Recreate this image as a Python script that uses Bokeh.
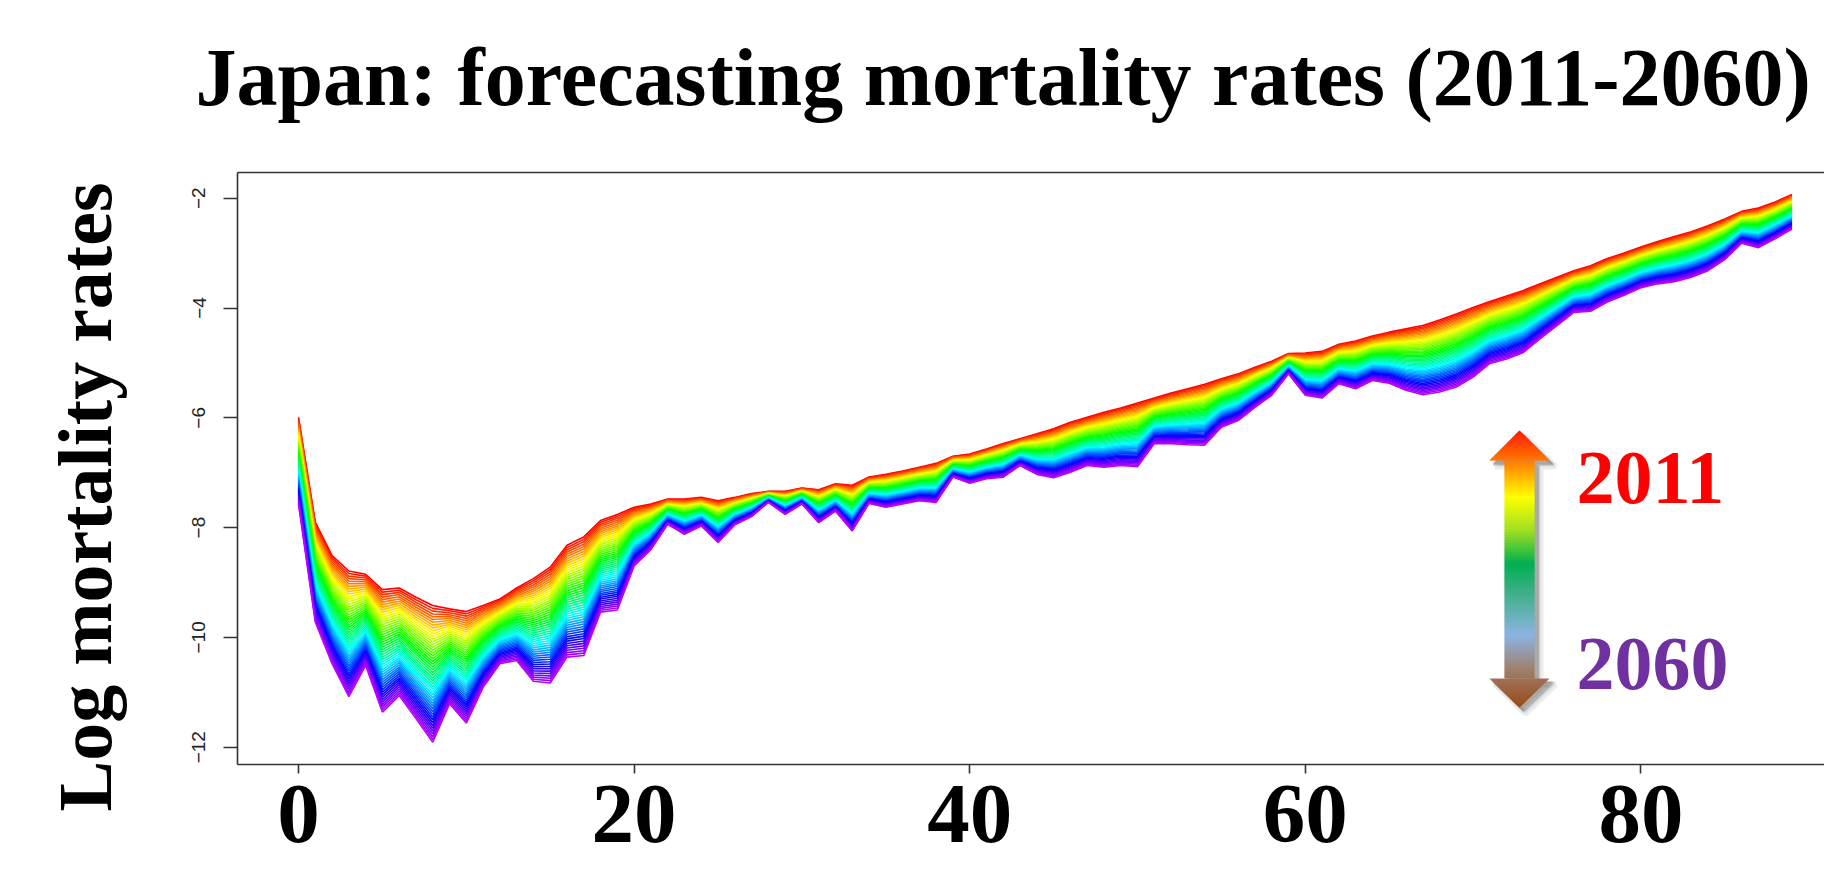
import colorsys

from bokeh.plotting import figure
from bokeh.models import Range1d, LinearAxis, FixedTicker, Title, Span
from bokeh.core.properties import value
from bokeh.embed import file_html
from bokeh.resources import INLINE

# ---------------- data ----------------
ages = list(range(90))
years = list(range(2011, 2061))

log_rate_2011 = [
    -5.99, -7.90, -8.51, -8.79, -8.85, -9.13, -9.10, -9.27, -9.42, -9.48,
    -9.53, -9.42, -9.30, -9.10, -8.93, -8.72, -8.32, -8.17, -7.87, -7.76,
    -7.63, -7.57, -7.48, -7.48, -7.45, -7.51, -7.45, -7.38, -7.34, -7.34,
    -7.28, -7.31, -7.20, -7.23, -7.08, -7.03, -6.97, -6.90, -6.83, -6.70,
    -6.66, -6.57, -6.47, -6.38, -6.29, -6.20, -6.08, -5.99, -5.90, -5.82,
    -5.73, -5.64, -5.55, -5.47, -5.39, -5.29, -5.20, -5.08, -4.97, -4.83,
    -4.82, -4.79, -4.66, -4.60, -4.51, -4.44, -4.38, -4.32, -4.22, -4.11,
    -3.99, -3.88, -3.78, -3.68, -3.56, -3.44, -3.32, -3.23, -3.10, -3.00,
    -2.89, -2.79, -2.70, -2.61, -2.50, -2.38, -2.24, -2.18, -2.07, -1.93,
]

log_rate_2060 = [
    -7.57, -9.72, -10.48, -11.08, -10.51, -11.36, -11.06, -11.48, -11.91, -11.21,
    -11.56, -10.91, -10.48, -10.42, -10.80, -10.83, -10.36, -10.33, -9.54, -9.50,
    -8.70, -8.40, -7.94, -8.12, -7.97, -8.27, -7.95, -7.80, -7.54, -7.76,
    -7.57, -7.91, -7.70, -8.06, -7.56, -7.63, -7.57, -7.51, -7.54, -7.08,
    -7.19, -7.11, -7.08, -6.87, -7.03, -7.09, -6.99, -6.87, -6.90, -6.87,
    -6.89, -6.47, -6.47, -6.49, -6.50, -6.17, -6.05, -5.81, -5.59, -5.20,
    -5.59, -5.64, -5.38, -5.47, -5.32, -5.37, -5.50, -5.58, -5.53, -5.44,
    -5.26, -5.01, -4.93, -4.81, -4.56, -4.32, -4.08, -4.06, -3.89, -3.77,
    -3.63, -3.56, -3.52, -3.44, -3.32, -3.12, -2.82, -2.90, -2.74, -2.56,
]

x_ticks = [0, 20, 40, 60, 80]
y_ticks = [-12, -10, -8, -6, -4, -2]
title_text = "Japan: forecasting mortality rates (2011-2060)"
y_title = "Log mortality rates"
legend_labels = ["2011", "2060"]

# ---------------- layout / style ----------------
W, H = 1824, 879
FL, FT, FB = 237, 172, 764          # frame left / top / bottom (px)
X0PX, XSCALE = 298.0, 16.78         # px of age 0, px per year of age
Y2PX, YSCALE = 197.7, 54.9          # px of log rate -2, px per unit
BASE_FIX = 0.35                     # renderer's baseline shift (em)

x_start = (FL - X0PX) / XSCALE
x_end = (W - X0PX) / XSCALE
y_end = -2 + (Y2PX - FT) / YSCALE
y_start = -2 - (FB - Y2PX) / YSCALE


def dx(px):
    return (px - X0PX) / XSCALE


def dy(py):
    return -2 - (py - Y2PX) / YSCALE


p = figure(width=W, height=H, x_range=Range1d(x_start, x_end),
           y_range=Range1d(y_start, y_end), output_backend="svg",
           toolbar_location=None, x_axis_type=None, y_axis_type=None,
           min_border_left=FL, min_border_right=0, min_border_top=FT,
           min_border_bottom=H - FB, outline_line_color=None,
           background_fill_color="white", border_fill_color="white")

# forecast curves: one per year, 2011 (red) -> 2060 (violet)
n = len(years)
xs, ys, cols = [], [], []
for j in range(n):
    frac = j / (n - 1)
    xs.append(ages)
    ys.append([a + (b - a) * frac for a, b in zip(log_rate_2011, log_rate_2060)])
    r, g, b = colorsys.hsv_to_rgb(j / 62.0, 1.0, 1.0)
    cols.append("#%02x%02x%02x" % (int(r * 255), int(g * 255), int(b * 255)))
p.multi_line(xs=xs, ys=ys, line_color=cols, line_width=1.6)

# axes
AX_COL = "#333333"
xaxis = LinearAxis(ticker=FixedTicker(ticks=x_ticks),
                   major_tick_out=9, major_tick_in=0,
                   minor_tick_out=0, minor_tick_in=0,
                   axis_line_width=1.6, axis_line_color=AX_COL,
                   major_tick_line_width=1.6, major_tick_line_color=AX_COL,
                   major_label_text_font="Liberation Serif",
                   major_label_text_font_style="bold",
                   major_label_text_font_size="85px",
                   major_label_text_color="black",
                   major_label_standoff=12)
p.add_layout(xaxis, "below")

yaxis = LinearAxis(ticker=FixedTicker(ticks=y_ticks),
                   major_tick_out=14, major_tick_in=0,
                   minor_tick_out=0, minor_tick_in=0,
                   axis_line_width=1.6, axis_line_color=AX_COL,
                   major_tick_line_width=1.6, major_tick_line_color=AX_COL,
                   major_label_text_font="Liberation Sans",
                   major_label_text_font_size="19px",
                   major_label_text_color="#222222",
                   major_label_orientation="vertical",
                   major_label_standoff=18,
                   # trailing no-break spaces push the centred title down a little
                   axis_label=y_title + "\u00a0\u00a0\u00a0",
                   axis_label_text_font="Liberation Serif",
                   axis_label_text_font_style="bold",
                   axis_label_text_font_size="76px",
                   axis_label_text_color="black",
                   axis_label_standoff=63)
p.add_layout(yaxis, "left")

# top axis: draws the top border; one white (invisible) tick at the far right
# edge reserves the gap between the frame and the title
gap_tick = x_end - 0.02
top_axis = LinearAxis(ticker=FixedTicker(ticks=[gap_tick]), major_tick_out=48,
                      major_tick_in=0, minor_tick_out=0, minor_tick_in=0,
                      major_label_standoff=0, major_label_overrides={gap_tick: ""},
                      major_label_text_font_size="1px",
                      axis_line_color=AX_COL, axis_line_width=1.6,
                      major_tick_line_color="white", major_tick_line_width=1,
                      minor_tick_line_color=None)
p.add_layout(top_axis, "above")

p.add_layout(Title(text=title_text, align="left", offset=-42,
                   text_font="Liberation Serif", text_font_style="bold",
                   text_font_size="82px", text_color="black", standoff=4),
             "above")

# ---------------- gradient double arrow legend ----------------
ACX = 1519.0
A_TOP, A_HB1, A_HB2, A_BOT = 430.0, 460.0, 678.0, 707.0
HEAD_HW, SHAFT_HW = 30.0, 15.0
stops = [(0.00, "#ff1a00"), (0.11, "#ff7a00"), (0.24, "#ffff00"),
         (0.36, "#a0e020"), (0.48, "#00b050"), (0.60, "#45b090"),
         (0.74, "#8db3e2"), (0.86, "#a08070"), (1.00, "#9a4a12")]


def hex2rgb(h):
    return tuple(int(h[i:i + 2], 16) for i in (1, 3, 5))


def grad(t):
    for (t0, c0), (t1, c1) in zip(stops[:-1], stops[1:]):
        if t <= t1:
            f = (t - t0) / (t1 - t0) if t1 > t0 else 0
            a, b = hex2rgb(c0), hex2rgb(c1)
            return "#%02x%02x%02x" % tuple(int(round(a[k] + (b[k] - a[k]) * f)) for k in range(3))
    return stops[-1][1]


def hw_head_top(py):
    return HEAD_HW * (py - A_TOP) / (A_HB1 - A_TOP)


def hw_head_bot(py):
    return HEAD_HW * (A_BOT - py) / (A_BOT - A_HB2)


outline = [(ACX, A_TOP), (ACX + HEAD_HW, A_HB1), (ACX + SHAFT_HW, A_HB1),
           (ACX + SHAFT_HW, A_HB2), (ACX + HEAD_HW, A_HB2), (ACX, A_BOT),
           (ACX - HEAD_HW, A_HB2), (ACX - SHAFT_HW, A_HB2), (ACX - SHAFT_HW, A_HB1),
           (ACX - HEAD_HW, A_HB1)]
for off, alpha, lw in [(6, 0.12, 6), (4, 0.25, 2), (3, 0.3, 0)]:
    p.patch([dx(x + off) for x, _ in outline], [dy(y + off) for _, y in outline],
            fill_color="#606060", fill_alpha=alpha,
            line_color="#606060" if lw else None, line_alpha=alpha, line_width=lw)

sx, sy, sc = [], [], []
segments = [(A_TOP, A_HB1, hw_head_top, 30), (A_HB1, A_HB2, lambda y: SHAFT_HW, 140),
            (A_HB2, A_BOT, hw_head_bot, 30)]
for y0, y1, fw, k in segments:
    for i in range(k):
        ya = y0 + (y1 - y0) * i / k
        yb = y0 + (y1 - y0) * (i + 1) / k
        ybe = min(yb + 0.8, y1)
        wa, wb = fw(ya), fw(ybe)
        sx.append([dx(ACX - wa), dx(ACX + wa), dx(ACX + wb), dx(ACX - wb)])
        sy.append([dy(ya), dy(ya), dy(ybe), dy(ybe)])
        sc.append(grad(((ya + yb) / 2 - A_TOP) / (A_BOT - A_TOP)))
p.patches(xs=sx, ys=sy, fill_color=sc, line_color=None)

LEG_SIZE = 76
p.text(x=[dx(1576)], y=[dy(504 - BASE_FIX * LEG_SIZE)], text=[legend_labels[0]],
       text_font=value("Liberation Serif"), text_font_style="bold",
       text_font_size="%dpx" % LEG_SIZE,
       text_color="#ff0000", text_baseline="alphabetic", text_align="left")
p.text(x=[dx(1576)], y=[dy(690 - BASE_FIX * LEG_SIZE)], text=[legend_labels[1]],
       text_font=value("Liberation Serif"), text_font_style="bold",
       text_font_size="%dpx" % LEG_SIZE,
       text_color="#7030a0", text_baseline="alphabetic", text_align="left")

open("out.html", "w").write(file_html(p, INLINE))
